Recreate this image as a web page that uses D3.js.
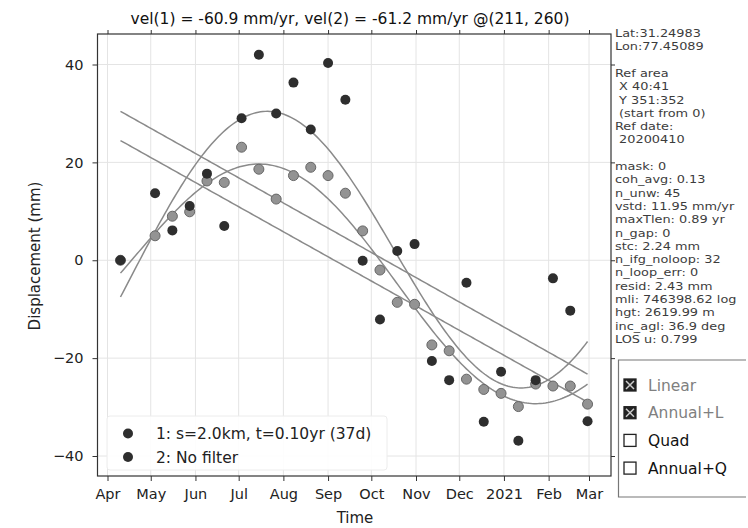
<!DOCTYPE html>
<html>
<head>
<meta charset="utf-8">
<script src="https://cdn.jsdelivr.net/npm/d3@7"></script>
<style>
  body { margin: 0; background: #fff; }
  text { font-family: "DejaVu Sans", sans-serif; }
</style>
</head>
<body>
<svg id="chart" width="748" height="528"></svg>
<script>

// acquisition dates (12 day repeat, ref 20200410)
var dates = ["2020-04-10", "2020-05-04", "2020-05-16", "2020-05-28", "2020-06-09", "2020-06-21",
  "2020-07-03", "2020-07-15", "2020-07-27", "2020-08-08", "2020-08-20", "2020-09-01",
  "2020-09-13", "2020-09-25", "2020-10-07", "2020-10-19", "2020-10-31", "2020-11-12",
  "2020-11-24", "2020-12-06", "2020-12-18", "2020-12-30", "2021-01-11", "2021-01-23",
  "2021-02-04", "2021-02-16", "2021-02-28"]

// 1: filtered
var disp1 = [0, 5.0, 9.0, 9.9, 16.2, 15.9, 23.1, 18.6, 12.5, 17.3, 19.0, 17.3, 13.7, 6.0,
  -2.0, -8.6, -9.0, -17.3, -18.5, -24.3, -26.4, -27.2, -29.9, -25.3, -25.7, -25.7, -29.4]

// 2: no filter
var disp2 = [0, 13.7, 6.1, 11.1, 17.7, 7.0, 29.0, 42.0, 30.0, 36.3, 26.7, 40.3, 32.8, -0.1,
  -12.1, 1.9, 3.3, -20.6, -24.5, -4.6, -33.0, -22.8, -36.9, -24.5, -3.7, -10.3, -32.9]

var yTicks = [-40, -20, 0, 20, 40]
var legendLabels = ["1: s=2.0km, t=0.10yr (37d)", "2: No filter"]
var titleText = "vel(1) = -60.9 mm/yr, vel(2) = -61.2 mm/yr @(211, 260)"
var infoLines = ["Lat:31.24983", "Lon:77.45089", "", "Ref area", " X 40:41", " Y 351:352",
  " (start from 0)", "Ref date:", " 20200410", "", "mask: 0", "coh_avg: 0.13", "n_unw: 45",
  "vstd: 11.95 mm/yr", "maxTlen: 0.89 yr", "n_gap: 0", "stc: 2.24 mm", "n_ifg_noloop: 32",
  "n_loop_err: 0", "resid: 2.43 mm", "mli: 746398.62 log", "hgt: 2619.99 m",
  "inc_agl: 36.9 deg", "LOS u: 0.799"]
var fitModels = ["Linear", "Annual+L", "Quad", "Annual+Q"]
var fitChecked = [true, true, false, false]

var parseDate = d3.timeParse("%Y-%m-%d")
var days = dates.map(parseDate)

var box = { left: 97.5, right: 611, top: 34, bottom: 476 }

var svg = d3.select("#chart")

// month ticks Apr 1 -> 107.5, Mar 1 -> 589
var xBase = d3.scaleTime()
  .domain([new Date(2020, 3, 1), new Date(2021, 2, 1)])
  .range([107.5, 589])
var xScale = d3.scaleTime()
  .domain([xBase.invert(box.left), xBase.invert(box.right)])
  .range([box.left, box.right])

var yBase = d3.scaleLinear().domain([-40, 40]).range([456, 64.5])
var yScale = d3.scaleLinear()
  .domain([yBase.invert(box.bottom), yBase.invert(box.top)])
  .range([box.bottom, box.top])

var monthTicks = d3.timeMonth.range(new Date(2020, 3, 1), new Date(2021, 2, 2))
var fmtMonth = d => d.getMonth() == 0 ? d3.timeFormat("%Y")(d) : d3.timeFormat("%b")(d)

// grid
var grid = svg.append("g").attr("stroke", "#e4e4e4").attr("stroke-width", 1)
grid.selectAll(".vg").data(monthTicks).enter().append("line")
  .attr("x1", d => xScale(d)).attr("x2", d => xScale(d))
  .attr("y1", box.top).attr("y2", box.bottom)
grid.selectAll(".hg").data(yTicks).enter().append("line")
  .attr("x1", box.left).attr("x2", box.right)
  .attr("y1", d => yScale(d)).attr("y2", d => yScale(d))

// least squares fits (time in years from first date)
var t0 = days[0]
var tYear = days.map(d => (d - t0) / (365.25 * 864e5))

function solve(A, b) {
  var n = b.length
  var M = A.map((row, i) => row.concat([b[i]]))
  for (var i = 0; i < n; i++) {
    var p = i
    for (var k = i + 1; k < n; k++) if (Math.abs(M[k][i]) > Math.abs(M[p][i])) p = k
    var tmp = M[i]; M[i] = M[p]; M[p] = tmp
    for (var k = i + 1; k < n; k++) {
      var f = M[k][i] / M[i][i]
      for (var j = i; j <= n; j++) M[k][j] -= f * M[i][j]
    }
  }
  var x = new Array(n).fill(0)
  for (var i = n - 1; i >= 0; i--) {
    var s = M[i][n]
    for (var j = i + 1; j < n; j++) s -= M[i][j] * x[j]
    x[i] = s / M[i][i]
  }
  return x
}

function fit(basis, vals) {
  var G = tYear.map(basis)
  var m = G[0].length
  var A = d3.range(m).map(i => d3.range(m).map(j => d3.sum(G, g => g[i] * g[j])))
  var b = d3.range(m).map(i => d3.sum(G, (g, k) => g[i] * vals[k]))
  var c = solve(A, b)
  return t => d3.sum(basis(t), (v, i) => v * c[i])
}

var linBasis = t => [1, t]
var annBasis = t => [1, t, Math.sin(2 * Math.PI * t), Math.cos(2 * Math.PI * t)]

var tLast = tYear[tYear.length - 1]
var tCurve = d3.range(0, tLast + 1e-9, tLast / 200)

var lineGen = d3.line()
  .x(t => xScale(new Date(+t0 + t * 365.25 * 864e5)))

var fits = []
;[disp1, disp2].forEach(function (vals) {
  fits.push(fit(linBasis, vals))
  fits.push(fit(annBasis, vals))
})

svg.append("g").selectAll("path").data(fits).enter().append("path")
  .attr("d", f => lineGen.y(t => yScale(f(t)))(tCurve))
  .attr("fill", "none")
  .attr("stroke", "#8a8a8a")
  .attr("stroke-width", 1.5)

// points
svg.append("g").selectAll("circle").data(disp1).enter().append("circle")
  .attr("cx", (d, i) => xScale(days[i]))
  .attr("cy", d => yScale(d))
  .attr("r", 5)
  .attr("fill", "#939393")
  .attr("stroke", "#666")
  .attr("stroke-width", 1)

svg.append("g").selectAll("circle").data(disp2).enter().append("circle")
  .attr("cx", (d, i) => xScale(days[i]))
  .attr("cy", d => yScale(d))
  .attr("r", 5)
  .attr("fill", "#2e2e2e")

// axes
svg.append("g")
  .attr("transform", `translate(0,${box.bottom})`)
  .call(d3.axisBottom(xScale).tickValues(monthTicks).tickFormat(fmtMonth).tickSize(5).tickPadding(8))
svg.append("g")
  .attr("transform", `translate(0,${box.top})`)
  .call(d3.axisTop(xScale).tickValues(monthTicks).tickFormat("").tickSize(4))
svg.append("g")
  .attr("transform", `translate(${box.left},0)`)
  .call(d3.axisLeft(yScale).tickValues(yTicks)
    .tickFormat(d => d < 0 ? "\u2212" + Math.abs(d) : d).tickSize(5).tickPadding(9))
svg.append("g")
  .attr("transform", `translate(${box.right},0)`)
  .call(d3.axisRight(yScale).tickValues(yTicks).tickFormat("").tickSize(4))

svg.selectAll(".domain").remove()
svg.selectAll(".tick line").attr("stroke", "#333")
svg.selectAll(".tick text").attr("fill", "#222").style("font-size", "14.5px")

svg.append("rect")
  .attr("x", box.left).attr("y", box.top)
  .attr("width", box.right - box.left).attr("height", box.bottom - box.top)
  .attr("fill", "none").attr("stroke", "#333").attr("stroke-width", 1.2)

// legend
var legend = svg.append("g")
legend.append("rect")
  .attr("x", 107).attr("y", 416).attr("width", 280).attr("height", 54)
  .attr("rx", 3).attr("fill", "#fff").attr("fill-opacity", 0.9)
  .attr("stroke", "#ececec")
var legendColors = ["#2e2e2e", "#2e2e2e"]
legend.selectAll("circle").data(legendLabels).enter().append("circle")
  .attr("cx", 128).attr("cy", (d, i) => 433.5 + i * 23.5)
  .attr("r", 5).attr("fill", (d, i) => legendColors[i])
legend.selectAll("text").data(legendLabels).enter().append("text")
  .attr("x", 156).attr("y", (d, i) => 433.5 + i * 23.5).attr("dy", "0.36em")
  .style("font-size", "15.5px").attr("fill", "#222")
  .text(d => d)

// title and axis labels
svg.append("text").attr("x", 350).attr("y", 24).attr("text-anchor", "middle")
  .style("font-size", "15.5px").attr("fill", "#111").text(titleText)
svg.append("text").attr("x", 355).attr("y", 523).attr("text-anchor", "middle")
  .style("font-size", "15px").attr("fill", "#222").text("Time")
svg.append("text").attr("transform", "translate(40,256) rotate(-90)")
  .attr("text-anchor", "middle")
  .style("font-size", "15px").attr("fill", "#222").text("Displacement (mm)")

// info text on the right (a little wide, like the reference)
svg.append("g").attr("transform", "translate(615,0) scale(1.14,1)")
  .selectAll("text").data(infoLines).enter().append("text")
  .attr("x", 0).attr("y", (d, i) => 33 + i * 13.3).attr("dy", "0.36em")
  .style("font-size", "11.3px").attr("fill", "#3c3c3c")
  .style("white-space", "pre")
  .text(d => d)

// fit model check boxes
var panel = svg.append("g")
panel.append("path")
  .attr("d", "M746,360 H618.5 V497 H746")
  .attr("fill", "none").attr("stroke", "#777").attr("stroke-width", 1.2)
var rows = panel.selectAll("g.row").data(fitModels).enter().append("g")
  .attr("transform", (d, i) => `translate(624,${385 + i * 27.7})`)
rows.append("rect")
  .attr("x", 0).attr("y", -6).attr("width", 12).attr("height", 12)
  .attr("fill", (d, i) => fitChecked[i] ? "#222" : "#fff")
  .attr("stroke", "#222").attr("stroke-width", 1.3)
rows.filter((d, i) => fitChecked[i]).append("path")
  .attr("d", "M2,-4 L10,4 M10,-4 L2,4")
  .attr("stroke", "#ccc").attr("stroke-width", 1.5)
rows.append("text")
  .attr("x", 24).attr("y", 0).attr("dy", "0.36em")
  .style("font-size", "15.5px")
  .attr("fill", (d, i) => fitChecked[i] ? "#808080" : "#111")
  .text(d => d)

</script>
</body>
</html>
